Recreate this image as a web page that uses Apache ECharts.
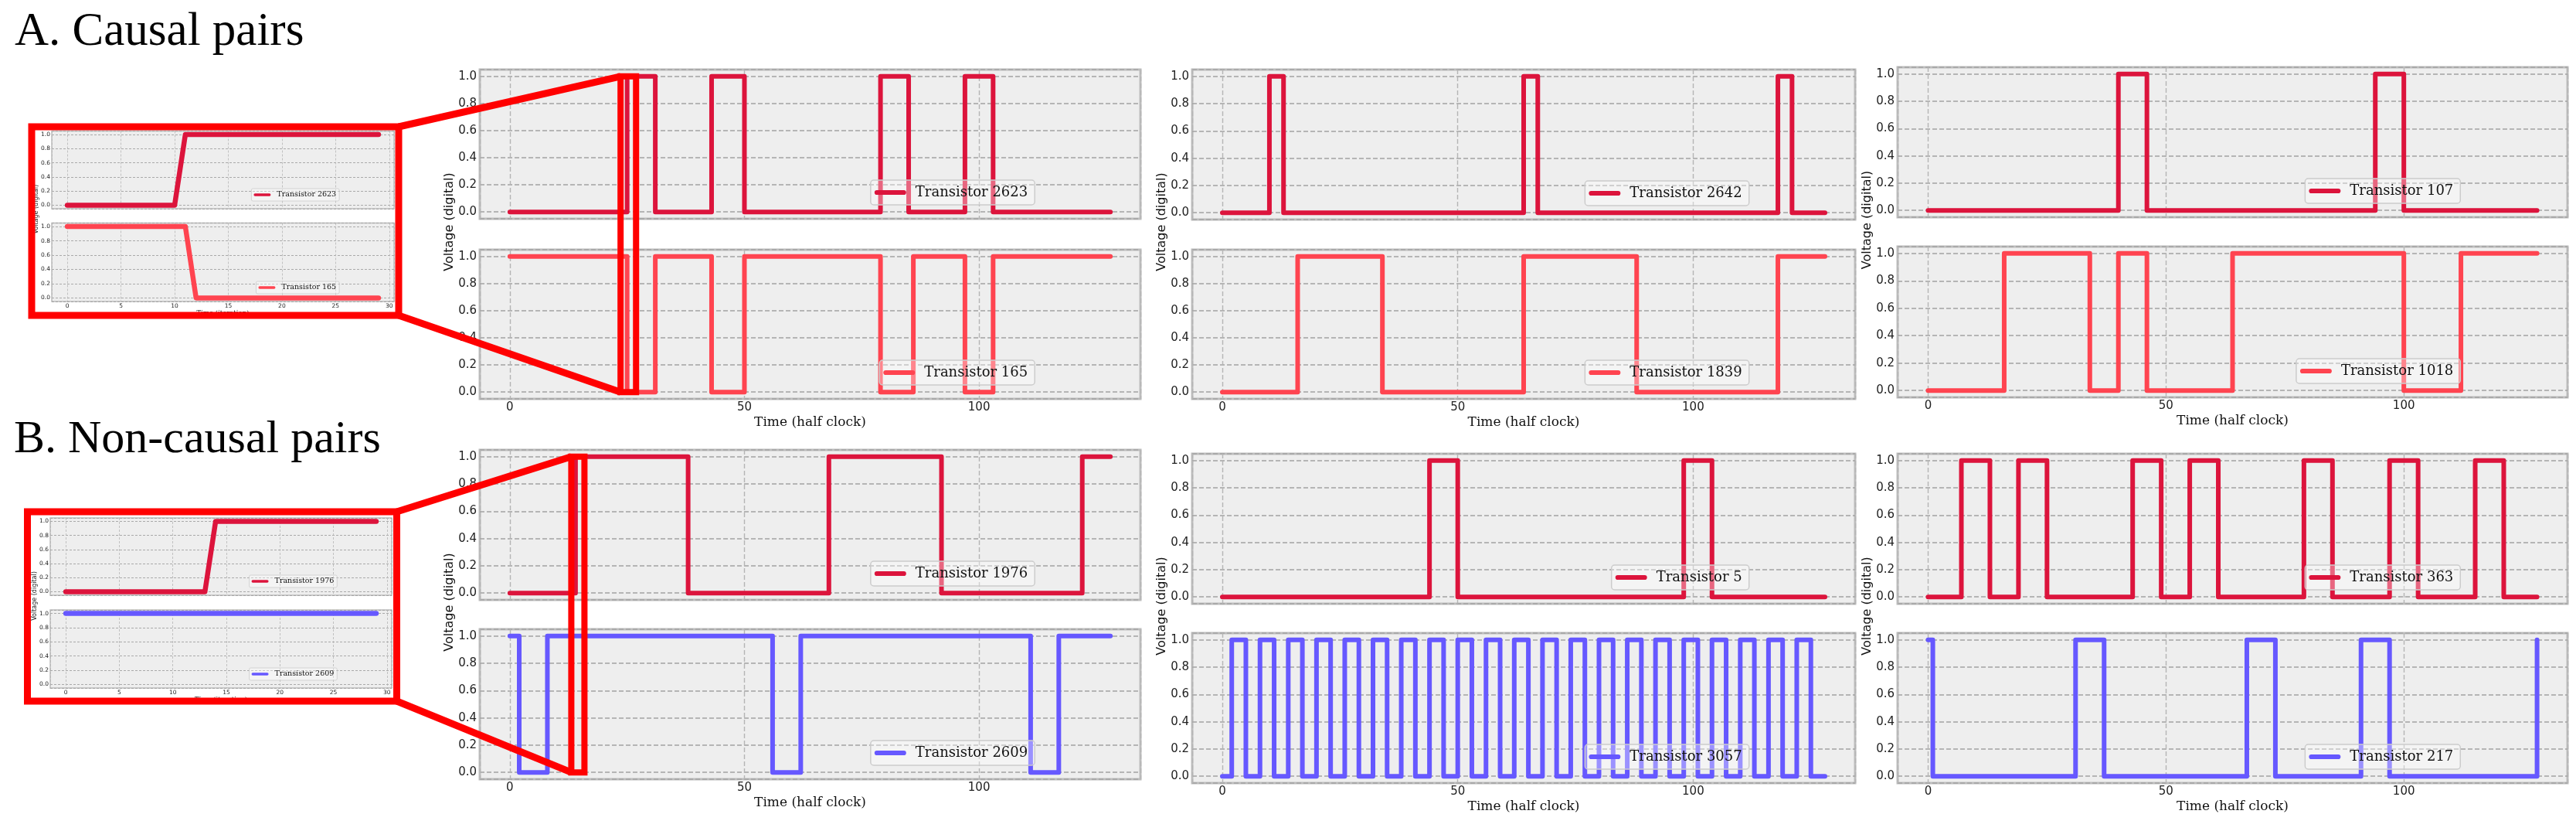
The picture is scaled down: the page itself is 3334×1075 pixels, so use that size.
<!DOCTYPE html>
<html><head><meta charset="utf-8">
<script src="https://cdn.jsdelivr.net/npm/echarts@6/dist/echarts.min.js"></script>
<style>html,body{margin:0;padding:0;background:#fff}#c{width:3334px;height:1075px}</style>
</head><body><div id="c"></div>
<script>
// ================= DATA =================
const panelTitles = ['A. Causal pairs', 'B. Non-causal pairs'];
const xLabelMain = 'Time (half clock)';
const xLabelInset = 'Time (iteration)';
const yLabel = 'Voltage (digital)';
const tEnd = 128;                    // last half-clock sample

// Main traces: level at t = 0, then times (half clock) where the level toggles
const init2623 = 0, t2623 = [25, 31, 43, 50, 79, 85, 97, 103];
const init165  = 1, t165  = [25, 31, 43, 50, 79, 86, 97, 103];
const init2642 = 0, t2642 = [10, 13, 64, 67, 118, 121];
const init1839 = 0, t1839 = [16, 34, 64, 88, 118];
const init107  = 0, t107  = [40, 46, 94, 100];
const init1018 = 0, t1018 = [16, 34, 40, 46, 64, 100, 112];
const init1976 = 0, t1976 = [14, 38, 68, 92, 122];
const init2609 = 1, t2609 = [2, 8, 56, 62, 111, 117];
const init5    = 0, t5    = [44, 50, 98, 104];
const init3057 = 0, t3057 = [2, 5, 8, 11, 14, 17, 20, 23, 26, 29, 32, 35, 38, 41, 44, 47, 50, 53, 56, 59,
                             62, 65, 68, 71, 74, 77, 80, 83, 86, 89, 92, 95, 98, 101, 104, 107, 110, 113,
                             116, 119, 122, 125];
const init363  = 0, t363  = [7, 13, 19, 25, 43, 49, 55, 61, 79, 85, 97, 103, 115, 121];
const init217  = 1, t217  = [1, 31, 37, 67, 73, 91, 97, 128];

// Inset traces (iterations 0..29)
const insetA2623 = [0,0,0,0,0,0,0,0,0,0,0,1,1,1,1,1,1,1,1,1,1,1,1,1,1,1,1,1,1,1];
const insetA165  = [1,1,1,1,1,1,1,1,1,1,1,1,0,0,0,0,0,0,0,0,0,0,0,0,0,0,0,0,0,0];
const insetB1976 = [0,0,0,0,0,0,0,0,0,0,0,0,0,0,1,1,1,1,1,1,1,1,1,1,1,1,1,1,1,1];
const insetB2609 = [1,1,1,1,1,1,1,1,1,1,1,1,1,1,1,1,1,1,1,1,1,1,1,1,1,1,1,1,1,1];

// Zoomed windows (half clock) marked in the main panels
const zoomSpanA = [23.6, 26.9];
const zoomSpanB = [13.1, 15.9];

// ================= LAYOUT / STYLE =================
const W = 3334, H = 1075;
const C_TOP = '#DC143C', C_RED = '#FF4450', C_BLUE = '#6658FF', C_BOX = '#FF0000';
const colX = [[621, 1476], [1543, 2401], [2456, 3323]];
const rowY = [
  [[90, 283], [323, 516], [582, 776], [814, 1008]],
  [[90, 284], [323, 516], [587, 781], [819, 1013]],
  [[87, 281], [319, 514], [587, 781], [819, 1013]]
];
const insetRects = [
  [67, 510, 169.5, 270], [67, 510, 288.5, 390],
  [65, 507, 670, 770],   [65, 507, 789, 890]
];
const boxA = {x: 41, y: 164, w: 475, h: 244};
const boxB = {x: 35.5, y: 662, w: 478, h: 245};

function stepPoints(init, trans) {
  const pts = [[0, init]];
  let lv = init;
  trans.forEach(t => { lv = 1 - lv; pts.push([t, lv]); });
  if (trans[trans.length - 1] < tEnd) pts.push([tEnd, lv]);
  return pts;
}
function seqPoints(vals) { return vals.map((v, i) => [i, v]); }

const panels = [
  {c:0, r:0, name:'Transistor 2623', color:C_TOP,  data:stepPoints(init2623, t2623)},
  {c:0, r:1, name:'Transistor 165',  color:C_RED,  data:stepPoints(init165, t165)},
  {c:1, r:0, name:'Transistor 2642', color:C_TOP,  data:stepPoints(init2642, t2642)},
  {c:1, r:1, name:'Transistor 1839', color:C_RED,  data:stepPoints(init1839, t1839)},
  {c:2, r:0, name:'Transistor 107',  color:C_TOP,  data:stepPoints(init107, t107)},
  {c:2, r:1, name:'Transistor 1018', color:C_RED,  data:stepPoints(init1018, t1018)},
  {c:0, r:2, name:'Transistor 1976', color:C_TOP,  data:stepPoints(init1976, t1976)},
  {c:0, r:3, name:'Transistor 2609', color:C_BLUE, data:stepPoints(init2609, t2609)},
  {c:1, r:2, name:'Transistor 5',    color:C_TOP,  data:stepPoints(init5, t5)},
  {c:1, r:3, name:'Transistor 3057', color:C_BLUE, data:stepPoints(init3057, t3057)},
  {c:2, r:2, name:'Transistor 363',  color:C_TOP,  data:stepPoints(init363, t363)},
  {c:2, r:3, name:'Transistor 217',  color:C_BLUE, data:stepPoints(init217, t217)},
  {inset:0, name:'Transistor 2623', color:C_TOP,  data:seqPoints(insetA2623)},
  {inset:1, name:'Transistor 165',  color:C_RED,  data:seqPoints(insetA165)},
  {inset:2, name:'Transistor 1976', color:C_TOP,  data:seqPoints(insetB1976)},
  {inset:3, name:'Transistor 2609', color:C_BLUE, data:seqPoints(insetB2609)}
];

const xFmt = step => v => (Math.abs(v / step - Math.round(v / step)) < 1e-6) ? String(Math.round(v)) : '';
const yFmt = v => (v > -1e-6 && v < 1 + 1e-6 && Math.abs(v * 5 - Math.round(v * 5)) < 1e-6) ? v.toFixed(1) : '';

const grids = [], xAxes = [], yAxes = [], series = [], legends = [];
panels.forEach((p, i) => {
  const small = p.inset !== undefined;
  let x1, x2, y1, y2, bottom;
  if (small) { [x1, x2, y1, y2] = insetRects[p.inset]; bottom = (p.inset % 2 === 1); }
  else { [x1, x2] = colX[p.c]; [y1, y2] = rowY[p.c][p.r]; bottom = (p.r % 2 === 1); }
  grids.push({left:x1, top:y1, width:x2 - x1, height:y2 - y1, show:true, containLabel:false,
    outerBoundsMode:'none', backgroundColor:'#eeeeee', borderColor:'#bdbdbd', borderWidth: small ? 1.5 : 3});
  xAxes.push({gridIndex:i, type:'value',
    min: small ? -1.45 : -6.4, max: small ? 30.45 : 134.4,
    splitNumber: small ? 6 : 3, minInterval: small ? 5 : 50, maxInterval: small ? 5 : 50,
    axisLine:{show:false}, axisTick:{show:false},
    axisLabel:{show:bottom, margin: small ? 2 : 4, fontSize: small ? 7.5 : 15, fontFamily:'DejaVu Sans',
      color:'#222', formatter:xFmt(small ? 5 : 50)},
    splitLine:{show:true, lineStyle:{color:'#b5b5b5', width: small ? 0.8 : 1.4, type: small ? [3,2] : [6,3]}},
    name: bottom ? (small ? xLabelInset : xLabelMain) : '', nameLocation:'middle',
    nameGap: small ? 10 : 22,
    nameTextStyle:{fontFamily:'DejaVu Serif', fontSize: small ? 8.5 : 17, color:'#111'}
  });
  yAxes.push({gridIndex:i, type:'value', min:-0.05, max:1.05, splitNumber:5, minInterval:0.2, maxInterval:0.2,
    axisLine:{show:false}, axisTick:{show:false},
    axisLabel:{margin: small ? 2 : 4, fontSize: small ? 7.5 : 15, fontFamily:'DejaVu Sans', color:'#222', formatter:yFmt},
    splitLine:{show:true, lineStyle:{color:'#a2a2a2', width: small ? 0.9 : 1.6, type: small ? [3,2] : [6,3]}}
  });
  series.push({type:'line', name:p.name, xAxisIndex:i, yAxisIndex:i, data:p.data,
    step: small ? false : 'end', showSymbol:false, symbol:'none', color:p.color,
    lineStyle:{color:p.color, width: small ? 6.5 : 6, cap:'round', join:'round'},
    itemStyle:{color:p.color}, emphasis:{disabled:true}, silent:true, z:3});
  const lw = x2 - x1;
  legends.push({data:[p.name], selectedMode:false, orient:'horizontal',
    right: W - (x1 + 0.84 * lw), bottom: H - (y2 - (small ? 10 : 18)),
    icon:'path://M3,0 L37,0 A3,3 0 0 1 37,6 L3,6 A3,3 0 0 1 3,0 Z',
    itemWidth: small ? 22 : 41, itemHeight: small ? 4.5 : 7,
    padding: small ? [3, 4, 3, 3] : [7, 9, 7, 5],
    backgroundColor:'rgba(255,255,255,0.35)', borderColor:'#cccccc', borderWidth: small ? 0.8 : 1.5,
    borderRadius: small ? 2 : 4,
    textStyle:{fontFamily:'DejaVu Serif', fontSize: small ? 9.5 : 18, color:'#111', padding:[0, 0, 0, small ? 3 : 7]},
    z: 5});
});

const chart = echarts.init(document.getElementById('c'), null, {renderer:'canvas', width:W, height:H});
chart.setOption({
  animation:false, backgroundColor:'#ffffff',
  textStyle:{fontFamily:'DejaVu Sans'},
  grid:grids, xAxis:xAxes, yAxis:yAxes, series:series, legend:legends
});

// ================= ANNOTATIONS =================
const P = (gi, x, y) => chart.convertToPixel({gridIndex: gi}, [x, y]);
const g = [];
// panel titles
g.push({type:'text', x:19, y:42, z:10, style:{text:panelTitles[0], font:'61px "Liberation Serif"', fill:'#000', align:'left', verticalAlign:'middle'}});
g.push({type:'text', x:18, y:569, z:10, style:{text:panelTitles[1], font:'60px "Liberation Serif"', fill:'#000', align:'left', verticalAlign:'middle'}});
// y labels for main pairs
for (let c = 0; c < 3; c++) {
  for (let pair = 0; pair < 2; pair++) {
    const top = rowY[c][pair * 2][0], bot = rowY[c][pair * 2 + 1][1];
    g.push({type:'text', x: colX[c][0] - 39, y: (top + bot) / 2 - 16, rotation: Math.PI / 2, z:10,
      style:{text:yLabel, font:'16px "DejaVu Sans"', fill:'#111', align:'center', verticalAlign:'middle'}});
  }
}
// y labels for insets
[[0, 1], [2, 3]].forEach(([a, b]) => {
  g.push({type:'text', x: insetRects[a][0] - 20, y: (insetRects[a][2] + insetRects[b][3]) / 2 - 9, rotation: Math.PI / 2, z:10,
    style:{text:yLabel, font:'8px "DejaVu Sans"', fill:'#222', align:'center', verticalAlign:'middle'}});
});
// zoom boxes + connectors
function zoomMarks(box, gTop, gBot, span) {
  const tl = P(gTop, span[0], 1.0), br = P(gBot, span[1], 0.0);
  g.push({type:'rect', z:50, shape:{x:box.x, y:box.y, width:box.w, height:box.h},
    style:{fill:'none', stroke:C_BOX, lineWidth:9}});
  g.push({type:'rect', z:50, shape:{x:tl[0], y:tl[1], width:br[0] - tl[0], height:br[1] - tl[1]},
    style:{fill:'none', stroke:C_BOX, lineWidth:8}});
  g.push({type:'line', z:50, shape:{x1:box.x + box.w, y1:box.y, x2:tl[0], y2:tl[1]},
    style:{stroke:C_BOX, lineWidth:9}});
  g.push({type:'line', z:50, shape:{x1:box.x + box.w, y1:box.y + box.h, x2:tl[0], y2:br[1]},
    style:{stroke:C_BOX, lineWidth:9}});
}
zoomMarks(boxA, 0, 1, zoomSpanA);
zoomMarks(boxB, 6, 7, zoomSpanB);
chart.setOption({graphic: g});
</script></body></html>
